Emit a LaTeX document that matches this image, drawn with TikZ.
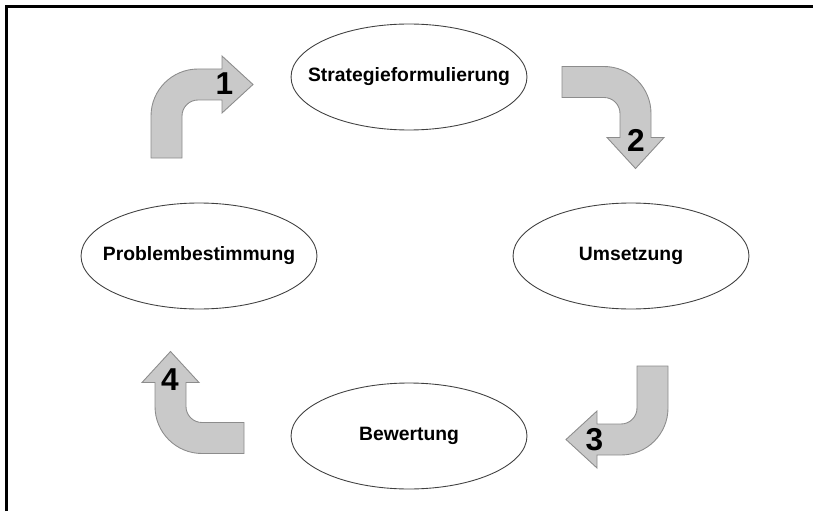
\documentclass[tikz,border=0pt]{standalone}
\usepackage{fontspec}
\setmainfont{Liberation Sans}
\usetikzlibrary{shapes,positioning}

\begin{document}
\begin{tikzpicture}[
    x=0.02cm, y=0.02cm,
    phase/.style={ellipse, draw=black!75, line width=0.5pt, fill=white, minimum width=4.72cm, minimum height=2.12cm, inner sep=0pt, font=\bfseries\fontsize{11}{13}\selectfont},
    numlabel/.style={font=\bfseries\fontsize{18}{18}\selectfont, inner sep=0pt},
    bendarrow/.pic={
        \draw[draw=black!45, fill=black!21, line width=0.5pt]
            (-15.5,0) -- (-15.5,42) arc[start angle=180, end angle=90, radius=47]
            -- (55.5,89) -- (55.5,102) -- (86.5,73.5) -- (55.5,45) -- (55.5,58)
            -- (31.5,58) arc[start angle=90, end angle=180, radius=16]
            -- (15.5,0) -- cycle;
        \node[numlabel] (-num) at (58,74) {#1};
    }
]
\useasboundingbox (0,0) rectangle (813,511);

% Frame
\draw[line width=1.7pt] (6.5,0) -- (6.5,504.5) -- (813,504.5);

% Phases (text boxed to zero width so the ellipse keeps its size)
\node[phase] (strat) at (409,434) {\makebox[0pt]{Strategieformulierung}};
\node[phase] (umsetz) at (631,255) {\makebox[0pt]{Umsetzung}};
\node[phase] (problem) at (199,255) {\makebox[0pt]{Problembestimmung}};
\node[phase] (bewert) at (409,75) {\makebox[0pt]{Bewertung}};

% Cycle arrows
\pic (arr1) at (166.5,353) {bendarrow=1};
\pic[rotate=-90] (arr2) at (562,429) {bendarrow=2};
\pic[rotate=180] (arr3) at (652.5,145) {bendarrow=3};
\pic[rotate=90] (arr4) at (244,73) {bendarrow=4};

\end{tikzpicture}
\end{document}
